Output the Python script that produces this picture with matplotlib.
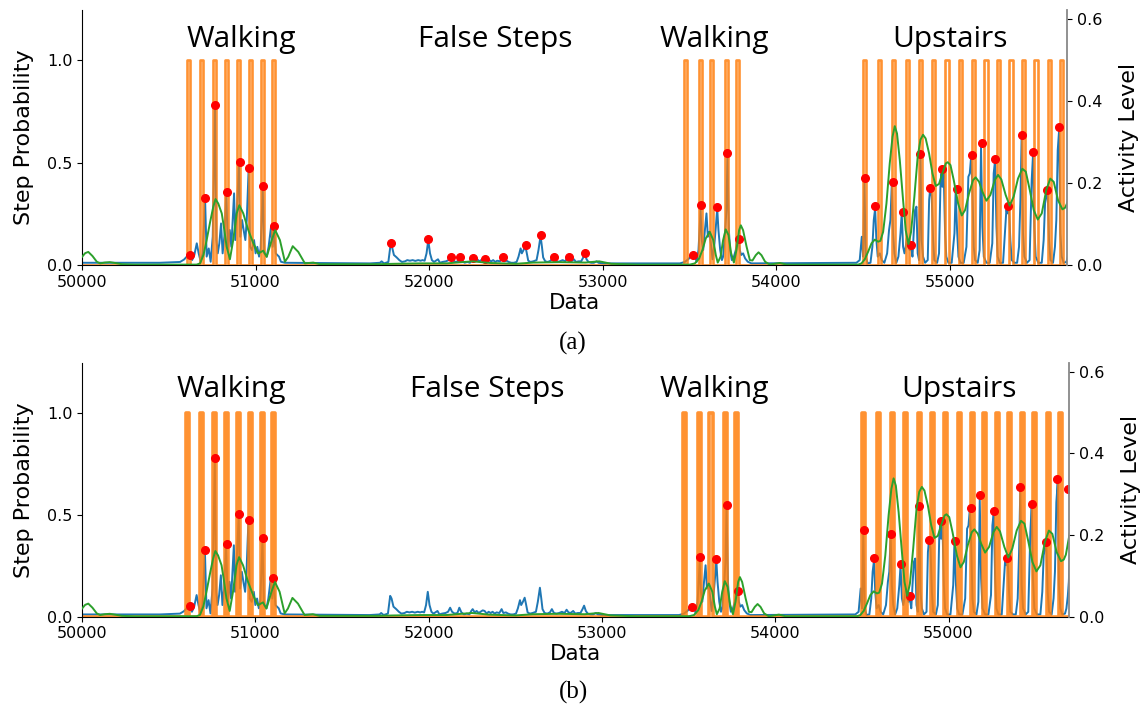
import matplotlib.pyplot as plt
import numpy as np

# ground-truth step instants (sample index)
steps = [50611, 50687, 50764, 50831, 50903, 50971, 51039, 51104,
         53475, 53562, 53629, 53715, 53775,
         54509, 54597, 54677, 54754, 54831, 54906, 54984, 55062,
         55138, 55209, 55282, 55353, 55426, 55497, 55576, 55645]

# network output: step probability per sample
step_prob = [
    (50000, 0.011), (50449, 0.011), (50565, 0.015), (50588, 0.027), (50607, 0.044),
    (50618, 0.054), (50634, 0.024), (50647, 0.049), (50661, 0.106), (50672, 0.057),
    (50684, 0.016), (50695, 0.057), (50709, 0.320), (50718, 0.041), (50730, 0.081),
    (50741, 0.016), (50753, 0.138), (50766, 0.772), (50774, 0.122), (50782, 0.057),
    (50791, 0.106), (50801, 0.203), (50810, 0.057), (50820, 0.138), (50831, 0.350),
    (50841, 0.073), (50851, 0.171), (50860, 0.089), (50876, 0.350), (50883, 0.122),
    (50893, 0.285), (50904, 0.496), (50912, 0.138), (50922, 0.220), (50931, 0.171),
    (50941, 0.122), (50949, 0.220), (50960, 0.471), (50968, 0.089), (50979, 0.073),
    (50991, 0.122), (51000, 0.057), (51010, 0.089), (51020, 0.041), (51029, 0.081),
    (51041, 0.379), (51050, 0.057), (51064, 0.041), (51075, 0.089), (51089, 0.187),
    (51098, 0.089), (51106, 0.179), (51116, 0.057), (51125, 0.049), (51135, 0.041),
    (51146, 0.016), (51169, 0.011),
    # false steps
    (51659, 0.008), (51717, 0.011), (51726, 0.018), (51740, 0.008), (51765, 0.015),
    (51778, 0.102), (51786, 0.089), (51797, 0.049), (51813, 0.037), (51828, 0.024),
    (51843, 0.015), (51861, 0.018), (51874, 0.024), (51889, 0.021), (51905, 0.024),
    (51920, 0.020), (51937, 0.024), (51951, 0.021), (51962, 0.024), (51974, 0.021),
    (51985, 0.057), (51995, 0.122), (52005, 0.057), (52016, 0.024), (52028, 0.015),
    (52039, 0.021), (52051, 0.028), (52062, 0.011), (52077, 0.015), (52097, 0.018),
    (52112, 0.024), (52124, 0.044), (52135, 0.024), (52150, 0.015), (52166, 0.018),
    (52177, 0.044), (52189, 0.021), (52204, 0.011), (52220, 0.015), (52235, 0.011),
    (52246, 0.028), (52254, 0.037), (52266, 0.021), (52277, 0.028), (52289, 0.018),
    (52300, 0.024), (52312, 0.031), (52323, 0.028), (52335, 0.015), (52346, 0.024),
    (52358, 0.018), (52369, 0.024), (52381, 0.015), (52392, 0.021), (52408, 0.018),
    (52421, 0.037), (52431, 0.018), (52446, 0.021), (52458, 0.015), (52473, 0.011),
    (52488, 0.011), (52504, 0.015), (52515, 0.041), (52527, 0.081), (52534, 0.057),
    (52544, 0.073), (52554, 0.093), (52561, 0.065), (52571, 0.021), (52584, 0.015),
    (52600, 0.018), (52619, 0.024), (52630, 0.073), (52642, 0.142), (52650, 0.089),
    (52657, 0.037), (52669, 0.018), (52684, 0.015), (52700, 0.021), (52711, 0.037),
    (52723, 0.018), (52738, 0.015), (52753, 0.018), (52769, 0.024), (52784, 0.018),
    (52796, 0.034), (52807, 0.021), (52819, 0.018), (52834, 0.028), (52846, 0.015),
    (52861, 0.018), (52876, 0.018), (52888, 0.037), (52897, 0.054), (52907, 0.028),
    (52918, 0.015), (52934, 0.011), (52949, 0.011), (52965, 0.018), (52976, 0.011),
    (53003, 0.008),
    # second walk
    (53445, 0.008), (53473, 0.015), (53493, 0.028), (53506, 0.041), (53516, 0.054),
    (53525, 0.041), (53533, 0.044), (53541, 0.015), (53552, 0.073), (53564, 0.268),
    (53571, 0.122), (53579, 0.073), (53589, 0.171), (53598, 0.252), (53606, 0.138),
    (53615, 0.163), (53623, 0.106), (53633, 0.028), (53644, 0.106), (53652, 0.187),
    (53660, 0.276), (53667, 0.171), (53677, 0.073), (53687, 0.024), (53694, 0.041),
    (53706, 0.171), (53713, 0.268), (53719, 0.537), (53727, 0.171), (53734, 0.073),
    (53744, 0.024), (53756, 0.041), (53767, 0.073), (53775, 0.122), (53783, 0.125),
    (53790, 0.073), (53798, 0.049), (53809, 0.057), (53821, 0.032), (53836, 0.016),
    (53857, 0.008),
    # stairs
    (54462, 0.011), (54481, 0.024), (54493, 0.138), (54501, 0.041), (54508, 0.415),
    (54516, 0.041), (54527, 0.008), (54543, 0.011), (54554, 0.089), (54562, 0.220),
    (54570, 0.276), (54577, 0.122), (54585, 0.041), (54597, 0.057), (54608, 0.024),
    (54623, 0.011), (54639, 0.057), (54650, 0.171), (54658, 0.220), (54666, 0.398),
    (54673, 0.155), (54681, 0.057), (54692, 0.011), (54704, 0.041), (54716, 0.155),
    (54723, 0.252), (54731, 0.089), (54739, 0.057), (54746, 0.089), (54754, 0.138),
    (54762, 0.089), (54769, 0.073), (54777, 0.089), (54785, 0.041), (54792, 0.155),
    (54800, 0.268), (54808, 0.285), (54815, 0.057), (54823, 0.024), (54831, 0.528),
    (54838, 0.122), (54846, 0.041), (54858, 0.011), (54873, 0.024), (54881, 0.317),
    (54888, 0.382), (54896, 0.333), (54904, 0.122), (54911, 0.024), (54927, 0.011),
    (54938, 0.057), (54946, 0.382), (54952, 0.447), (54957, 0.382), (54965, 0.447),
    (54973, 0.155), (54980, 0.041), (54992, 0.011), (55011, 0.011), (55027, 0.155),
    (55034, 0.366), (55042, 0.171), (55050, 0.041), (55061, 0.011), (55080, 0.011),
    (55096, 0.089), (55107, 0.431), (55115, 0.447), (55123, 0.528), (55130, 0.382),
    (55138, 0.089), (55146, 0.024), (55161, 0.011), (55172, 0.073), (55180, 0.577),
    (55188, 0.187), (55196, 0.041), (55211, 0.011), (55230, 0.011), (55245, 0.106),
    (55253, 0.447), (55261, 0.512), (55269, 0.187), (55276, 0.041), (55288, 0.011),
    (55307, 0.011), (55318, 0.155), (55326, 0.268), (55334, 0.252), (55341, 0.285),
    (55349, 0.122), (55357, 0.024), (55372, 0.011), (55388, 0.011), (55399, 0.089),
    (55407, 0.317), (55414, 0.626), (55422, 0.155), (55430, 0.041), (55445, 0.011),
    (55460, 0.024), (55472, 0.415), (55480, 0.545), (55487, 0.187), (55495, 0.041),
    (55510, 0.011), (55530, 0.011), (55541, 0.122), (55549, 0.301), (55556, 0.333),
    (55564, 0.366), (55572, 0.122), (55580, 0.024), (55595, 0.011), (55606, 0.089),
    (55614, 0.220), (55622, 0.561), (55630, 0.659), (55637, 0.155), (55645, 0.041),
    (55656, 0.011), (55672, 0.015), (55680, 0.040), (55688, 0.100), (55694, 0.170),
    (55700, 0.300),
]

# smoothed activity level
activity = [
    (50000, 0.020), (50018, 0.029), (50036, 0.032), (50060, 0.022), (50085, 0.008),
    (50104, 0.004), (50130, 0.006), (50160, 0.007), (50190, 0.005), (50230, 0.002),
    (50300, 0.001), (50660, 0.001), (50680, 0.004), (50700, 0.025), (50718, 0.061),
    (50738, 0.105), (50756, 0.142), (50769, 0.161), (50785, 0.150), (50805, 0.126),
    (50820, 0.085), (50833, 0.045), (50852, 0.014), (50871, 0.061), (50891, 0.126),
    (50906, 0.146), (50929, 0.126), (50958, 0.085), (50987, 0.053), (51015, 0.028),
    (51044, 0.035), (51064, 0.020), (51093, 0.061), (51113, 0.085), (51140, 0.061),
    (51169, 0.008), (51188, 0.020), (51214, 0.046), (51246, 0.032), (51284, 0.004),
    (51332, 0.006), (51370, 0.002), (51700, 0.002), (51800, 0.003), (51950, 0.004),
    (52100, 0.004), (52250, 0.009), (52350, 0.005), (52500, 0.003), (52600, 0.006),
    (52750, 0.007), (52900, 0.006), (52980, 0.009), (53050, 0.003), (53200, 0.001),
    (53502, 0.001), (53531, 0.004), (53556, 0.016), (53575, 0.037), (53594, 0.065),
    (53617, 0.081), (53637, 0.061), (53652, 0.024), (53663, 0.006), (53679, 0.020),
    (53694, 0.061), (53709, 0.087), (53725, 0.073), (53740, 0.029), (53756, 0.006),
    (53771, 0.037), (53786, 0.085), (53796, 0.097), (53809, 0.085), (53829, 0.045),
    (53848, 0.012), (53863, 0.011), (53882, 0.024), (53898, 0.031), (53915, 0.024),
    (53936, 0.008), (53963, 0.001), (54021, 0.005), (54059, 0.001), (54472, 0.001),
    (54491, 0.004), (54510, 0.014), (54529, 0.032), (54549, 0.053), (54568, 0.062),
    (54587, 0.057), (54600, 0.059), (54616, 0.081), (54635, 0.150), (54654, 0.248),
    (54670, 0.313), (54683, 0.339), (54696, 0.321), (54712, 0.256), (54731, 0.158),
    (54746, 0.085), (54762, 0.051), (54777, 0.081), (54796, 0.167), (54815, 0.264),
    (54831, 0.306), (54846, 0.318), (54861, 0.309), (54881, 0.272), (54900, 0.224),
    (54919, 0.193), (54938, 0.198), (54957, 0.224), (54977, 0.248), (54988, 0.251),
    (55004, 0.244), (55023, 0.207), (55048, 0.150), (55069, 0.121), (55088, 0.134),
    (55111, 0.175), (55134, 0.207), (55149, 0.214), (55169, 0.203), (55188, 0.179),
    (55211, 0.157), (55234, 0.171), (55259, 0.207), (55278, 0.220), (55297, 0.209),
    (55322, 0.171), (55345, 0.145), (55368, 0.167), (55393, 0.211), (55418, 0.235),
    (55438, 0.228), (55461, 0.183), (55484, 0.134), (55507, 0.111), (55530, 0.126),
    (55556, 0.183), (55579, 0.211), (55599, 0.203), (55624, 0.158), (55649, 0.136),
    (55665, 0.140), (55677, 0.152), (55697, 0.200), (55710, 0.230),
]

# detected step peaks
walk_peaks = [(50622, 0.050), (50710, 0.328), (50768, 0.779), (50834, 0.358),
              (50908, 0.502), (50962, 0.475), (51043, 0.384), (51104, 0.192)]
false_peaks = [(51782, 0.109), (51995, 0.128), (52124, 0.040), (52177, 0.040),
               (52254, 0.034), (52320, 0.031), (52423, 0.038), (52559, 0.096),
               (52644, 0.145), (52717, 0.040), (52805, 0.038), (52899, 0.057)]
walk2_peaks = [(53518, 0.047), (53567, 0.294), (53660, 0.283), (53719, 0.545),
               (53785, 0.128)]
stair_peaks = [(54510, 0.426), (54570, 0.286), (54670, 0.406), (54728, 0.257),
               (54777, 0.099), (54831, 0.541), (54887, 0.376), (54956, 0.470),
               (55040, 0.372), (55127, 0.535), (55184, 0.597), (55261, 0.516),
               (55338, 0.288), (55415, 0.636), (55482, 0.551), (55561, 0.364),
               (55628, 0.675)]
peaks_a = walk_peaks + false_peaks + walk2_peaks + stair_peaks
peaks_b = walk_peaks + walk2_peaks + stair_peaks + [(55692, 0.625)]

activities = ['Walking', 'False Steps', 'Walking', 'Upstairs']

prob_x, prob_y = np.array(step_prob).T
act_x, act_y = np.array(activity).T


def pulse_train(times, half, x0, x1):
    xs, ys = [x0], [0]
    for t in times:
        xs += [t - half, t - half, t + half, t + half]
        ys += [0, 1, 1, 0]
    xs.append(x1)
    ys.append(0)
    return xs, ys


def draw_panel(ax, peaks, xmax, label_x, label_y, orange_lw):
    ax.plot(prob_x, prob_y, color='tab:blue', lw=1.4)
    ox, oy = pulse_train(steps, 9, 50000, 55800)
    ax.plot(ox, oy, color='tab:orange', lw=orange_lw, alpha=0.85)
    pk_x, pk_y = np.array(peaks).T
    ax.plot(pk_x, pk_y, 'o', color='red', ms=5.5, zorder=5)
    ax.set_xlim(50000, xmax)
    ax.set_ylim(0, 1.245)
    ax.set_yticks([0, 0.5, 1.0])
    ax.set_xlabel('Data', fontsize=15.5, labelpad=2)
    ax.set_ylabel('Step Probability', fontsize=16, labelpad=9)
    ax.tick_params(labelsize=11.5)
    ax.spines['top'].set_visible(False)
    ax.spines['right'].set_visible(False)
    for name, x in zip(activities, label_x):
        ax.text(x, label_y, name, ha='center', va='baseline',
                family='Open Sans', fontsize=21.5)

    ax2 = ax.twinx()
    ax2.plot(act_x, act_y, color='tab:green', lw=1.4)
    ax2.set_ylim(0, 0.6225)
    ax2.set_yticks([0, 0.2, 0.4, 0.6])
    ax2.set_ylabel('Activity Level', fontsize=16, labelpad=12)
    ax2.tick_params(labelsize=11.5)
    for side in ['top', 'left', 'bottom']:
        ax2.spines[side].set_visible(False)
    ax2.spines['right'].set_color('#888888')
    ax2.spines['right'].set_linewidth(1.3)


fig = plt.figure(figsize=(11.46, 7.13), dpi=100)
ax_a = fig.add_axes([0.0716, 0.6283, 0.8597, 0.3576])
ax_b = fig.add_axes([0.0716, 0.1351, 0.8615, 0.3562])

draw_panel(ax_a, peaks_a, 55677, [50916, 52379, 53646, 55000], 1.065, 1.9)
draw_panel(ax_b, peaks_b, 55697, [50864, 52339, 53646, 55058], 1.078, 2.6)

fig.text(0.5, 0.518, '(a)', ha='center', va='center', family='Liberation Serif', fontsize=18)
fig.text(0.5, 0.029, '(b)', ha='center', va='center', family='Liberation Serif', fontsize=18)

fig.savefig('out.png', dpi=100)
